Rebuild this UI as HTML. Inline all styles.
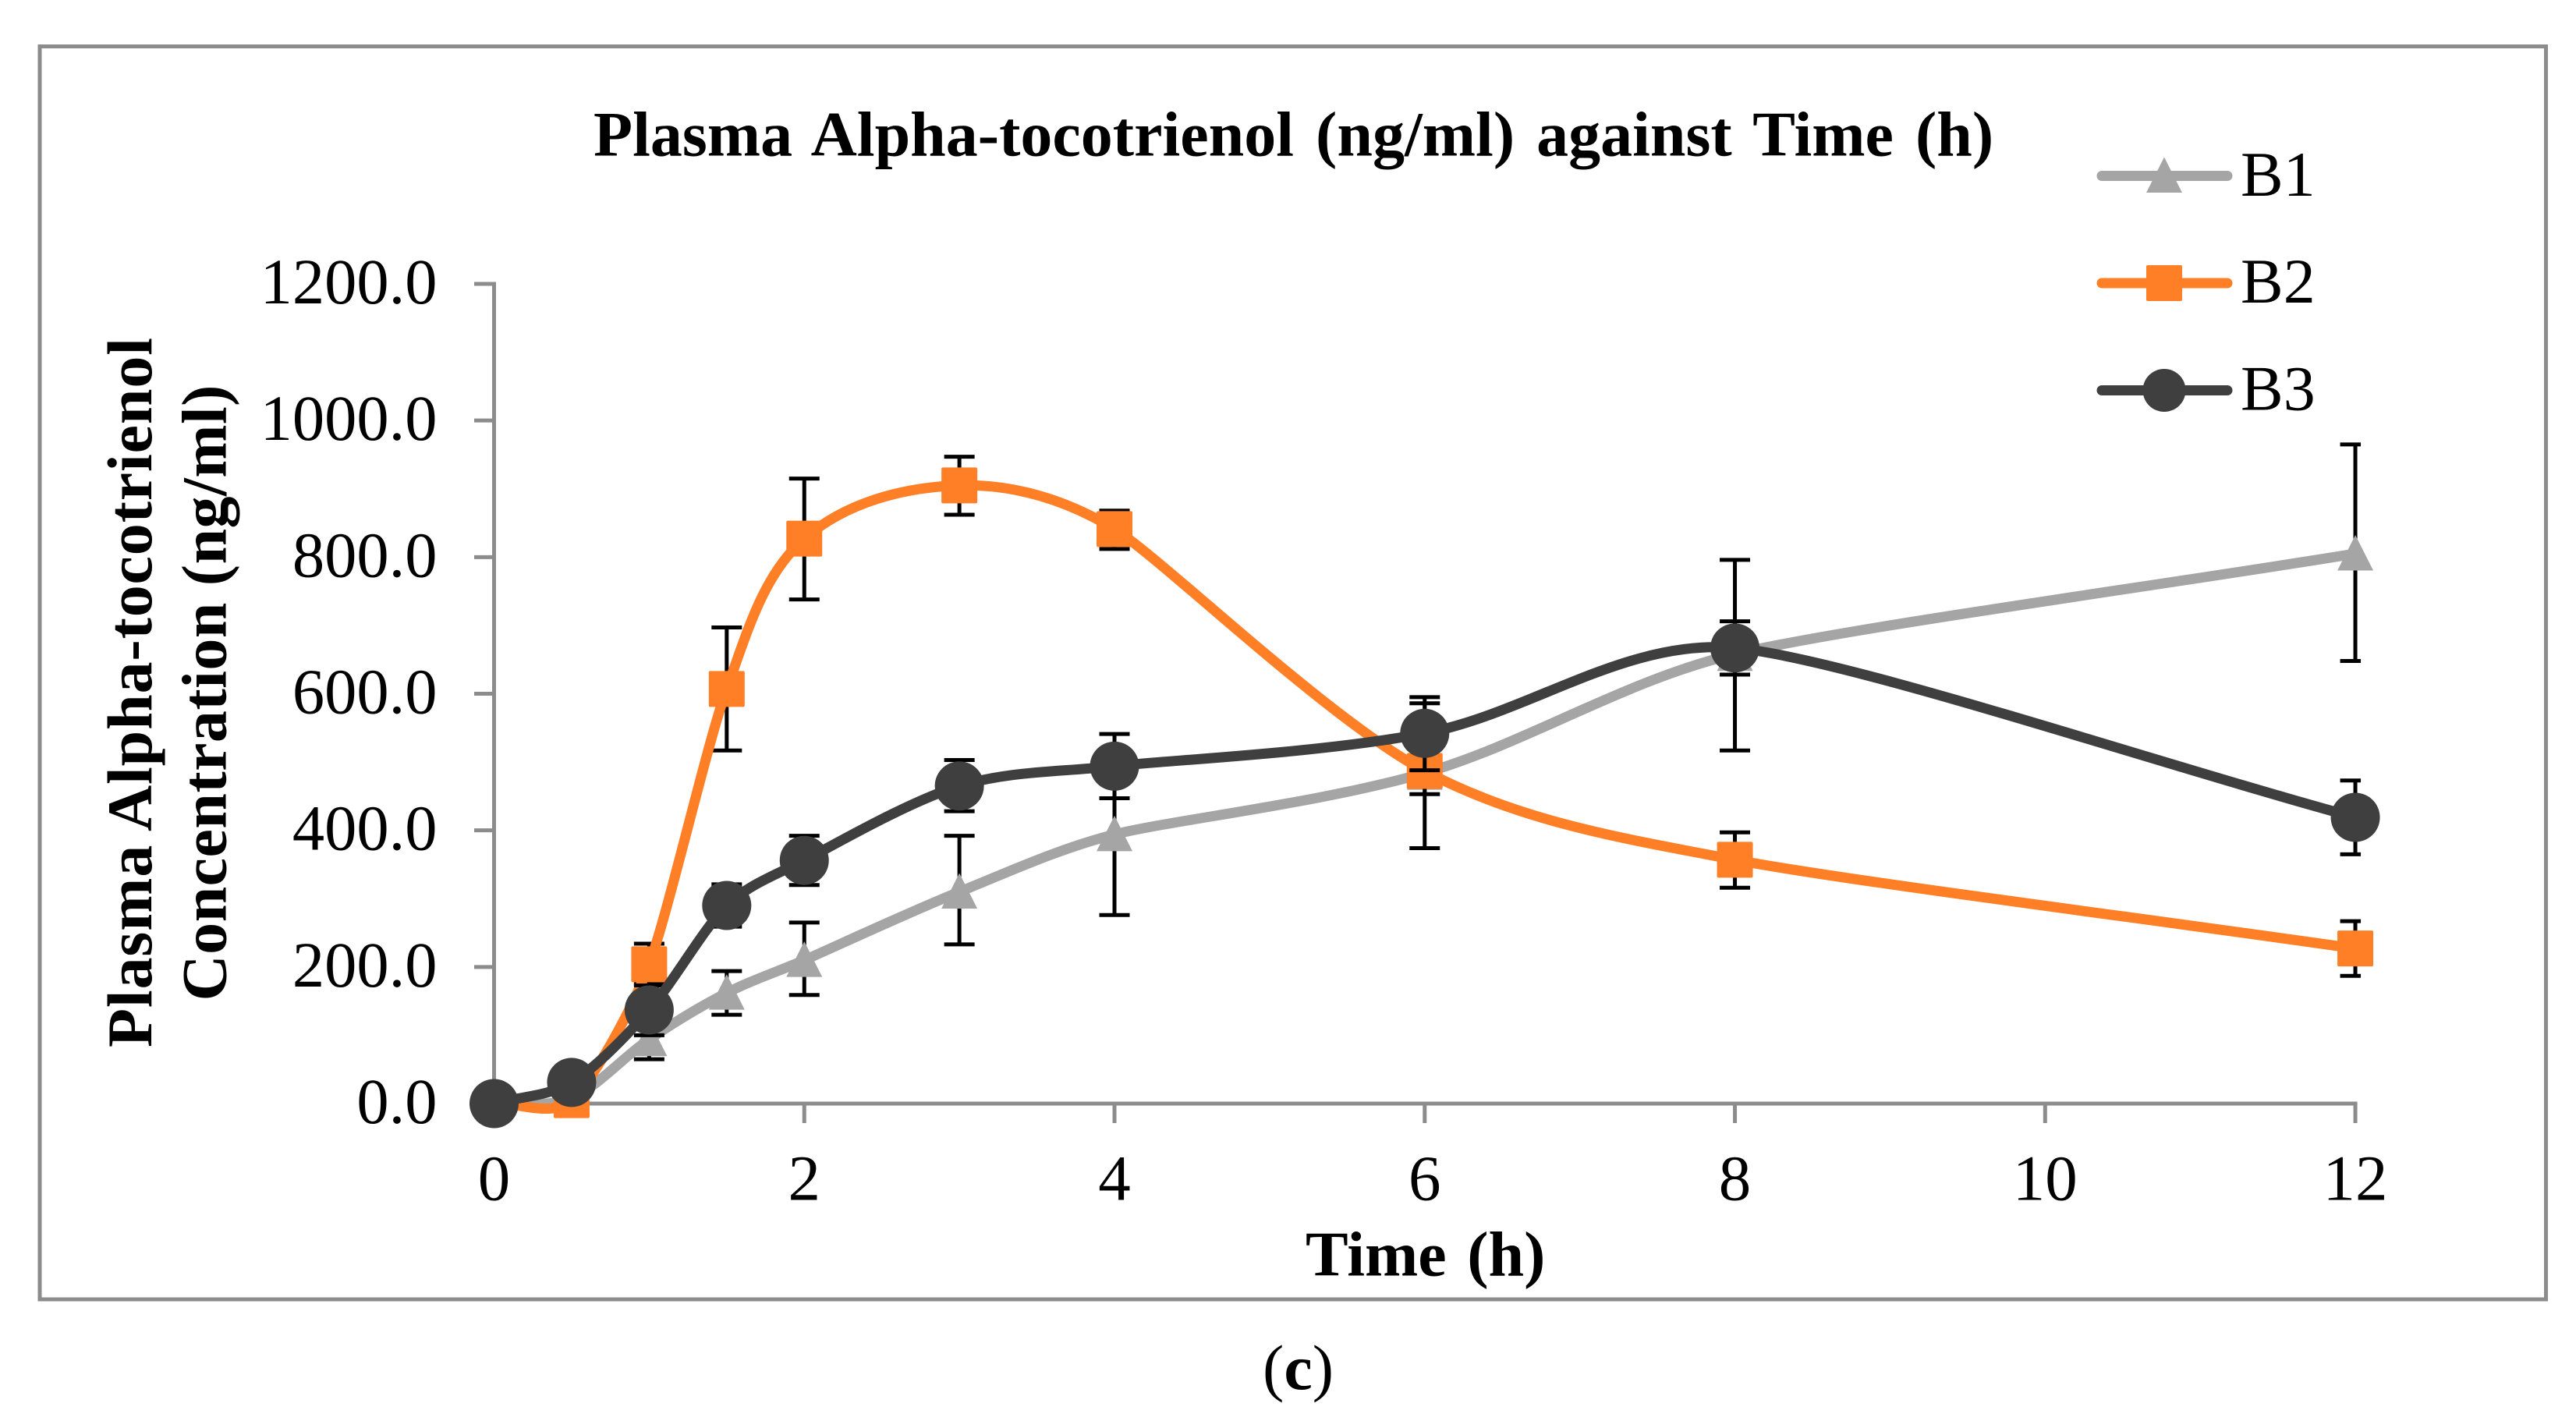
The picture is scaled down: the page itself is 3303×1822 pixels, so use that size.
<!DOCTYPE html>
<html lang="en">
<head>
<meta charset="utf-8">
<title>Plasma Alpha-tocotrienol against Time</title>
<style>
html,body{margin:0;padding:0;background:#fff;}
svg{display:block;}
text{font-family:"Liberation Serif",serif;fill:#000;}
.bold{font-weight:bold;}
</style>
</head>
<body>
<svg id="chart" xmlns="http://www.w3.org/2000/svg" width="3303" height="1822" viewBox="0 0 3303 1822">
  <rect x="0" y="0" width="3303" height="1822" fill="#ffffff"/>
  <rect x="51" y="59.5" width="3213.5" height="1606.5" fill="#ffffff" stroke="#8c8c8c" stroke-width="5"/>
  <text class="bold" x="761" y="199.5" font-size="82" word-spacing="7.5">Plasma Alpha-tocotrienol (ng/ml) against Time (h)</text>
  <text class="bold" font-size="82" text-anchor="middle" textLength="910" lengthAdjust="spacing" transform="translate(194 888) rotate(-90)">Plasma Alpha-tocotrienol</text>
  <text class="bold" font-size="82" text-anchor="middle" textLength="790" lengthAdjust="spacing" transform="translate(289.5 888.5) rotate(-90)">Concentration (ng/ml)</text>
  <text class="bold" x="1674" y="1635.5" font-size="82" word-spacing="6">Time (h)</text>
  <text x="1619" y="1781" font-size="82">(<tspan class="bold">c</tspan>)</text>
  <g id="axes"></g>
  <g id="plot"></g>
  <g id="legend"></g>
</svg>
<script>
const times = [0, 0.5, 1, 1.5, 2, 3, 4, 6, 8, 12];
const b1Values = [0, 8, 94, 162, 210, 310, 394, 484, 658, 805];
const b1Upper = [0, 8, 115, 194, 265, 392, 512, 586, 796, 965];
const b1Lower = [0, 8, 65, 130, 159, 233, 276, 374, 517, 648];
const b2Values = [0, 5, 204, 607, 827, 905, 841, 487, 357, 227];
const b2Upper = [0, 5, 234, 697, 915, 947, 868, 520, 397, 267];
const b2Lower = [0, 5, 175, 517, 738, 862, 812, 453, 316, 187];
const b3Values = [0, 31, 137, 290, 356, 465, 494, 542, 667, 419];
const b3Upper = [0, 41, 173, 321, 392, 503, 541, 595, 706, 473];
const b3Lower = [0, 21, 100, 259, 320, 428, 447, 488, 628, 365];
const xTickValues = [0, 2, 4, 6, 8, 10, 12];
const yTickValues = [0, 200, 400, 600, 800, 1000, 1200];
const yTickLabels = ['0.0', '200.0', '400.0', '600.0', '800.0', '1000.0', '1200.0'];

const NS = 'http://www.w3.org/2000/svg';
const X0 = 633.5, X_PER_H = 198.88, Y0 = 1415, Y_PER_UNIT = 1051 / 1200;
const xScale = t => X0 + t * X_PER_H;
const yScale = v => Y0 - v * Y_PER_UNIT;
const AXIS = '#8c8c8c';
const GRAY = '#a5a5a5', ORANGE = '#ff7f27', DARK = '#3f3f3f';

function make(tag, parent, props) {
  const el = document.createElementNS(NS, tag);
  for (const k in props) el.setAttribute(k, props[k]);
  parent.appendChild(el);
  return el;
}

/* axes */
const axes = document.getElementById('axes');
const yAxisLine = make('line', axes, {x1: X0, x2: X0, y1: yScale(1200) - 2.5, y2: Y0, stroke: AXIS, 'stroke-width': 5});


const xAxisLine = make('line', axes, {x1: X0, x2: xScale(12) + 2.5, y1: Y0, y2: Y0, stroke: AXIS, 'stroke-width': 5});



yTickValues.forEach((v, i) => {
  const tick = make('line', axes, {x1: 608, x2: X0, y1: yScale(v), y2: yScale(v), stroke: AXIS, 'stroke-width': 5});
  
  
  const label = make('text', axes, {x: 560.5, y: yScale(v) + 25, 'font-size': 82.5, 'text-anchor': 'end'});
  
  
  label.textContent = yTickLabels[i];
});
xTickValues.forEach(t => {
  const tick = make('line', axes, {x1: xScale(t), x2: xScale(t), y1: Y0, y2: 1440, stroke: AXIS, 'stroke-width': 5});
  
  
  const label = make('text', axes, {x: xScale(t), y: 1538.5, 'font-size': 83, 'text-anchor': 'middle'});
  
  
  label.textContent = String(t);
});

/* smoothed path: tangent handles are limited by the neighbouring chord lengths */
function smoothPath(pts) {
  const K = 0.34;
  let d = 'M' + pts[0][0].toFixed(2) + ' ' + pts[0][1].toFixed(2);
  const tangent = i => {
    const a = pts[Math.max(i - 1, 0)], b = pts[Math.min(i + 1, pts.length - 1)];
    const dx = b[0] - a[0], dy = b[1] - a[1], len = Math.hypot(dx, dy) || 1;
    return [dx / len, dy / len];
  };
  const chord = i => {
    if (i < 0 || i >= pts.length - 1) return Infinity;
    return Math.hypot(pts[i + 1][0] - pts[i][0], pts[i + 1][1] - pts[i][1]);
  };
  for (let i = 0; i < pts.length - 1; i++) {
    const p = pts[i], q = pts[i + 1];
    const len = chord(i);
    const h1 = K * Math.min(len, chord(i - 1));
    const h2 = K * Math.min(len, chord(i + 1));
    const t1 = tangent(i), t2 = tangent(i + 1);
    const c1 = [p[0] + t1[0] * h1, p[1] + t1[1] * h1];
    const c2 = [q[0] - t2[0] * h2, q[1] - t2[1] * h2];
    d += 'C' + c1[0].toFixed(2) + ' ' + c1[1].toFixed(2) + ' ' + c2[0].toFixed(2) + ' ' + c2[1].toFixed(2) + ' ' + q[0].toFixed(2) + ' ' + q[1].toFixed(2);
  }
  return d;
}

function drawMarker(parent, kind, x, y, color, legend) {
  let m;
  if (kind === 'triangle') {
    m = make('polygon', parent, {points: x + ',' + (y - 24) + ' ' + (x + 23) + ',' + (y + 21.5) + ' ' + (x - 23) + ',' + (y + 21.5), fill: color});
  } else if (kind === 'square') {
    m = make('rect', parent, {x: x - 23, y: y - 23, width: 46, height: 46, rx: 2, fill: color});
  } else {
    m = make('circle', parent, {cx: x, cy: y, r: legend ? 27.5 : 31.5, fill: color});
  }
  return m;
}

const plot = document.getElementById('plot');
const CAP_HALF = 19.5, CAP_RIGHT_LIMIT = xScale(12) + 7;

function drawSeries(name, kind, color, values, upper, lower) {
  const g = make('g', plot, {});
  
  
  times.forEach((t, i) => {
    if (upper[i] === lower[i]) return;
    const x = xScale(t), yU = yScale(upper[i]), yL = yScale(lower[i]);
    const right = Math.min(x + CAP_HALF, CAP_RIGHT_LIMIT);
    const bar = make('path', g, {
      d: 'M' + x + ' ' + yU + 'V' + yL + 'M' + (x - CAP_HALF) + ' ' + yU + 'H' + right + 'M' + (x - CAP_HALF) + ' ' + yL + 'H' + right,
      stroke: '#000', 'stroke-width': 5, fill: 'none'
    });
    
    
  });
  const pts = times.map((t, i) => [xScale(t), yScale(values[i])]);
  const line = make('path', g, {d: smoothPath(pts), fill: 'none', stroke: color, 'stroke-width': 13, 'stroke-linejoin': 'round', 'stroke-linecap': 'round'});
  
  
  pts.forEach(p => {
    const m = drawMarker(g, kind, p[0], p[1], color, false);
    
    
  });
}

drawSeries('b1', 'triangle', GRAY, b1Values, b1Upper, b1Lower);
drawSeries('b2', 'square', ORANGE, b2Values, b2Upper, b2Lower);
drawSeries('b3', 'circle', DARK, b3Values, b3Upper, b3Lower);

/* legend */
const legend = document.getElementById('legend');
function drawLegendEntry(label, kind, color, y, baseline) {
  const g = make('g', legend, {});
  
  
  const line = make('line', g, {x1: 2695, x2: 2856, y1: y, y2: y, stroke: color, 'stroke-width': 13, 'stroke-linecap': 'round'});
  
  
  const m = drawMarker(g, kind, 2775, y, color, true);
  
  
  const t = make('text', g, {x: 2873, y: baseline, 'font-size': 82});
  
  
  t.textContent = label;
}
drawLegendEntry('B1', 'triangle', GRAY, 225.5, 251);
drawLegendEntry('B2', 'square', ORANGE, 363, 388);
drawLegendEntry('B3', 'circle', DARK, 500.5, 525.5);
</script>
</body>
</html>
